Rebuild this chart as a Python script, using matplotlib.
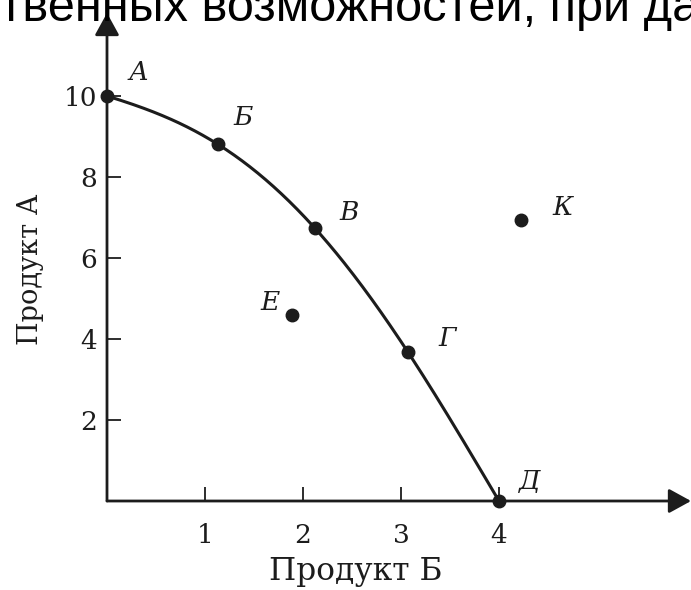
import numpy as np
import matplotlib
matplotlib.use("Agg")
import matplotlib.pyplot as plt

# ---- data ----
frontier_labels = ["А", "Б", "В", "Г", "Д"]
frontier_b = [0.0, 1.13, 2.12, 3.07, 4.0]      # Продукт Б
frontier_a = [10.0, 8.81, 6.74, 3.68, 0.0]     # Продукт А
other_labels = ["Е", "К"]
other_b = [1.89, 4.22]
other_a = [4.59, 6.94]
x_ticks = [1, 2, 3, 4]
y_ticks = [2, 4, 6, 8, 10]
x_label = "Продукт Б"
y_label = "Продукт А"
header_text = "твенных возможностей, при да"

ink = "#1c1c1c"
fig = plt.figure(figsize=(6.91, 5.90), dpi=100)
fig.patch.set_facecolor("white")

ax = fig.add_axes([107/691, 89/590, 584/691, 488/590])
ax.set_xlim(0, 584/98)
ax.set_ylim(0, 488/40.5)
ax.set_facecolor("none")
for s in ["top", "right", "bottom", "left"]:
    ax.spines[s].set_visible(False)

# axes with arrows
arrow_kw = dict(arrowstyle="-|>,head_length=0.4,head_width=0.22", mutation_scale=34,
                lw=2.0, color=ink, shrinkA=0, shrinkB=0)
ax.annotate("", xy=(1, 0), xytext=(0, 0), xycoords="axes fraction",
            textcoords="axes fraction", arrowprops=arrow_kw, annotation_clip=False)
ax.annotate("", xy=(0, 1), xytext=(0, 0), xycoords="axes fraction",
            textcoords="axes fraction", arrowprops=arrow_kw, annotation_clip=False)

# frontier curve
coef = np.polyfit(frontier_b, frontier_a, len(frontier_b) - 1)
xs = np.linspace(frontier_b[0], frontier_b[-1], 300)
ax.plot(xs, np.polyval(coef, xs), color=ink, lw=2.2, solid_capstyle="round", zorder=3)

ax.plot(frontier_b, frontier_a, "o", color=ink, ms=9, zorder=4, clip_on=False)
ax.plot(other_b, other_a, "o", color=ink, ms=9, zorder=4, clip_on=False)

offsets = {"А": (23, 17), "Б": (18, 19), "В": (25, 11), "Г": (28, 10),
           "Д": (22, 14), "Е": (-16, 9), "К": (30, 9)}
for lab, xb, ya in zip(frontier_labels + other_labels, frontier_b + other_b,
                       frontier_a + other_a):
    ax.annotate(lab, (xb, ya), xytext=offsets[lab], textcoords="offset points",
                ha="center", va="center", fontsize=19, family="DejaVu Serif",
                style="italic", color=ink, annotation_clip=False)

ax.set_xticks(x_ticks)
ax.set_xticklabels([str(t) for t in x_ticks])
ax.set_yticks(y_ticks)
ax.set_yticklabels([str(t) for t in y_ticks])
ax.tick_params(axis="both", direction="in", length=10, width=1.3, color=ink,
               labelcolor=ink, labelsize=19)
ax.tick_params(axis="x", pad=16)
ax.tick_params(axis="y", pad=7)
for lbl in ax.get_xticklabels() + ax.get_yticklabels():
    lbl.set_family("DejaVu Serif")

ax.set_xlabel(x_label, family="DejaVu Serif", fontsize=22.5, color=ink)
ax.set_ylabel(y_label, family="DejaVu Serif", fontsize=19.5, color=ink)
ax.xaxis.set_label_coords((356 - 107) / 584, -(556 - 501) / 488)
ax.yaxis.set_label_coords(-(107 - 44) / 584, (501 - 269) / 488)

fig.text(0.0, 1 - 21/590, header_text, ha="left", va="baseline",
         family="Liberation Sans", fontsize=35, color="black")

fig.savefig("out.png", dpi=100)
